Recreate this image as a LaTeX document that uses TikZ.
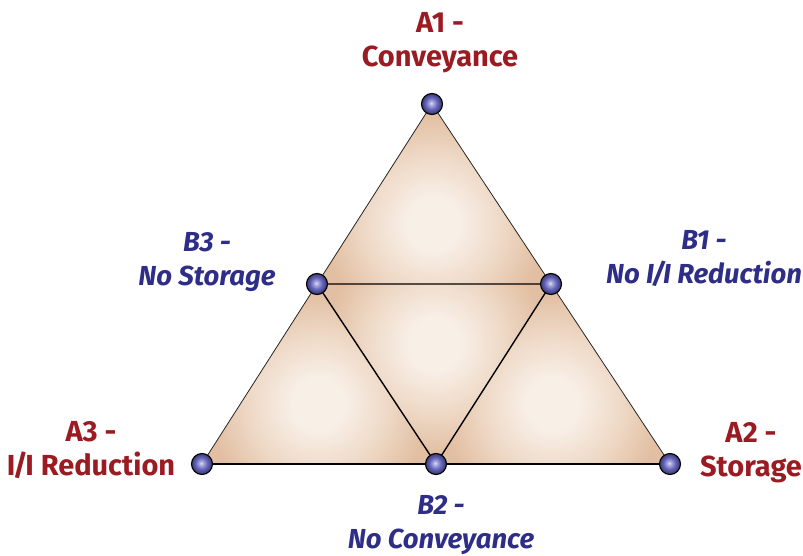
\documentclass[tikz,border=0pt]{standalone}
\usepackage{fontspec}
\setmainfont{Fira Sans}
\definecolor{tanedge}{RGB}{226,191,162}
\definecolor{tanmid}{RGB}{238,216,197}
\definecolor{tanlight}{RGB}{248,239,231}
\definecolor{labred}{RGB}{155,27,35}
\definecolor{labblue}{RGB}{46,45,135}
\definecolor{ballblue}{RGB}{100,100,190}
\pgfdeclareradialshading{tanglow}{\pgfpoint{0bp}{0bp}}{color(0bp)=(tanlight); color(6bp)=(tanlight); color(16bp)=(tanmid); color(25bp)=(tanedge); color(50bp)=(tanedge)}
\pgfdeclareradialshading{myball}{\pgfpoint{-2bp}{2bp}}{color(0bp)=(white!85!ballblue); color(3bp)=(white!55!ballblue); color(14bp)=(ballblue); color(25bp)=(ballblue!55!black); color(50bp)=(ballblue!55!black)}
\newcommand{\II}{I\kern-2.5pt/\kern-2.5pt I}
\tikzset{
  ballnode/.style={circle, draw=black, line width=1.1pt, shading=myball, minimum size=21pt, inner sep=0pt},
  outerline/.style={draw=black!85, line width=0.8pt},
  innerline/.style={draw=black, line width=1.4pt},
  alabel/.style={text=labred, font=\bfseries\fontsize{29}{34}\selectfont, align=center, inner sep=0pt},
  blabel/.style={text=labblue, font=\bfseries\itshape\fontsize{27.5}{34}\selectfont, align=center, inner sep=0pt}
}
\begin{document}
\begin{tikzpicture}[x=1pt,y=-1pt]
\useasboundingbox (0,0) rectangle (803,556);
\coordinate (A1) at (432,104);
\coordinate (A3) at (202,464);
\coordinate (A2) at (670,464);
\coordinate (B3) at (317,284);
\coordinate (B1) at (551,284);
\coordinate (B2) at (436,464);
\foreach \a/\b/\c in {A1/B3/B1, B3/A3/B2, B1/B2/A2, B3/B2/B1} {
  \begin{scope}
    \clip (\a) -- (\b) -- (\c) -- cycle;
    \fill[tanedge] (\a) -- (\b) -- (\c) -- cycle;
    \shade[shading=tanglow] (barycentric cs:\a=1,\b=1,\c=1) circle (110);
  \end{scope}
}
\draw[outerline] (A3) -- (A1) -- (A2);
\draw[innerline] (A3) -- (A2);
\draw[innerline] (B3) -- (B1) -- (B2) -- cycle;
\foreach \p in {A1,A2,A3,B1,B2,B3} { \node[ballnode] (b\p) at (\p) {}; }
\node[alabel] (lA1) at (440,43) {A1 -\\Conveyance};
\node[alabel] (lA3) at (91,450) {A3 -\\\II{} Reduction};
\node[alabel] (lA2) at (751,453) {A2 -\\Storage};
\node[blabel] (lB3) at (207,262) {B3 -\\No Storage};
\node[blabel] (lB1) at (704,259) {B1 -\\No \II{} Reduction};
\node[blabel] (lB2) at (441,525) {B2 -\\No Conveyance};
\end{tikzpicture}
\end{document}
